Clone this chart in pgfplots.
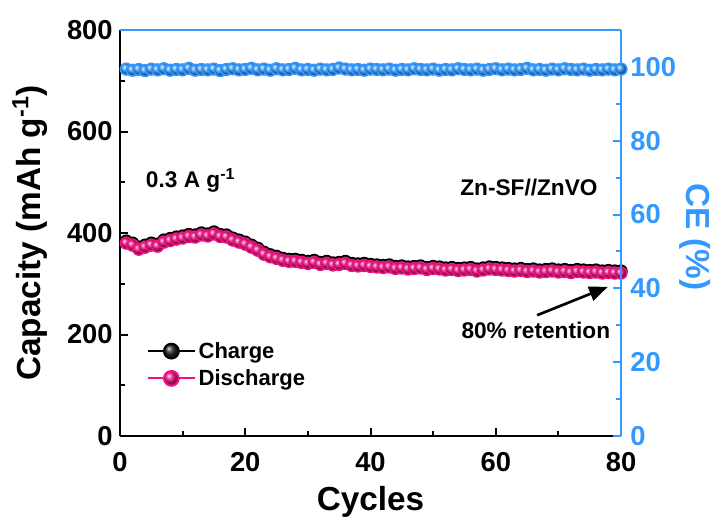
\documentclass[border=0pt]{standalone}
\usepackage{fontspec}
\setmainfont{Liberation Sans}
\usepackage{pgfplots}
\usepackage{pgfplotstable}
\pgfplotsset{compat=1.18}
\usetikzlibrary{arrows.meta}
\definecolor{CEblue}{RGB}{51,153,255}
\definecolor{DisPink}{RGB}{236,20,128}

% cycle, charge, discharge, CE
\pgfplotstableread{
c chg dis ce
1 384 380 99.4
2 380 376 99.1
3 372 368 99.3
4 376 372 99.0
5 380 376 99.4
6 378 374 99.2
7 386 382 99.5
8 389 385 99.1
9 392 388 99.3
10 394 390 99.2
11 397 393 99.6
12 396 392 99.1
13 400 396 99.3
14 398 394 99.2
15 402 398 99.4
16 397 393 99.0
17 396 392 99.3
18 390 386 99.5
19 386 382 99.2
20 382 378 99.3
21 376 372 99.6
22 370 366 99.2
23 362 358 99.4
24 357 353 99.1
25 354 350 99.5
26 350 346 99.2
27 348 344 99.3
28 348 344 99.6
29 346 342 99.2
30 344 340 99.3
31 346 342 99.1
32 342 338 99.4
33 344 340 99.2
34 341 337 99.3
35 342 338 99.7
36 344 340 99.4
37 340 336 99.2
38 339 335 99.3
39 340 336 99.1
40 338 334 99.4
41 337 333 99.3
42 336 332 99.2
43 337 333 99.4
44 334 330 99.1
45 335 331 99.3
46 333 329 99.2
47 334 330 99.5
48 335 331 99.3
49 332 328 99.2
50 334 330 99.4
51 333 329 99.1
52 331 327 99.3
53 332 328 99.2
54 330 326 99.5
55 331 327 99.3
56 332 328 99.2
57 329 325 99.4
58 331 327 99.1
59 333 329 99.3
60 332 328 99.5
61 331 327 99.2
62 330 326 99.4
63 329 325 99.2
64 330 326 99.3
65 328 324 99.6
66 329 325 99.2
67 327 323 99.3
68 328 324 99.1
69 329 325 99.4
70 327 323 99.2
71 328 324 99.5
72 326 322 99.3
73 328 324 99.2
74 327 323 99.4
75 326 322 99.1
76 327 323 99.3
77 325 321 99.2
78 326 322 99.4
79 325 321 99.2
80 325 321 99.4
}\cycdata

\begin{document}
\begin{tikzpicture}
\pgfplotsset{
  every axis/.append style={
    scale only axis, width=375.75pt, height=304.5pt,
    xmin=0, xmax=80, clip=false,
    tick align=inside,
    major tick length=6pt, minor tick length=3.5pt,
    ticklabel style={font=\bfseries\fontsize{20.5}{22}\selectfont},
    label style={font=\bfseries\fontsize{25}{27}\selectfont},
    /pgf/number format/assume math mode=true,
  },
}
\begin{axis}[
  ymin=0, ymax=800,
  axis x line*=bottom, axis y line*=left,
  axis line style={line width=1.5pt, black, -},
  tick style={line width=1.5pt, black},
  xtick={0,20,...,80}, minor xtick={10,30,...,70},
  ytick={0,200,...,800}, minor ytick={100,300,...,700},
  xticklabel style={yshift=-9pt},
  yticklabel style={xshift=-2pt},
  xlabel={Cycles},
  ylabel={Capacity (mAh g\textsuperscript{-1})},
  xlabel style={at={(axis description cs:0.5,-0.163)}, anchor=center},
  ylabel style={at={(axis description cs:-0.18,0.5)}, anchor=center},
  legend style={draw=none, fill=none, at={(0.045,0.245)}, anchor=north west,
    font=\bfseries\fontsize{16.5}{18}\selectfont, row sep=3pt},
  legend cell align=left,
  legend image code/.code={
    \draw[#1, line width=1.6pt, mark size=5.5pt, mark repeat=2, mark phase=2]
      plot coordinates {(0cm,0cm) (0.62cm,0cm) (1.24cm,0cm)};},
]
% page frame in the proportions of the reference
\path (rel axis cs:-0.2395,-0.192) rectangle (rel axis cs:1.1896,1.0739);

\addplot[black, line width=1.2pt, mark=ball, mark size=4.4pt,
  mark options={ball color=black!85}] table[x=c, y=chg] {\cycdata};
\addlegendentry{Charge}
\addplot[DisPink, line width=1.2pt, mark=ball, mark size=4.4pt,
  mark options={ball color=DisPink}] table[x=c, y=dis] {\cycdata};
\addlegendentry{Discharge}

\node[anchor=west, font=\bfseries\fontsize{17}{19}\selectfont]
  at (axis cs:3.4,504) {0.3 A g\textsuperscript{-1}};
\node[font=\bfseries\fontsize{17}{19}\selectfont]
  at (axis cs:65.3,489) {Zn-SF//ZnVO};
\node[font=\bfseries\fontsize{17}{19}\selectfont]
  at (axis cs:66.4,209) {80\% retention};
\draw[-{Triangle[length=14pt, width=11pt]}, line width=2pt]
  (axis cs:66.6,238) -- (axis cs:77.9,294);
\end{axis}

\begin{axis}[
  ymin=0, ymax=110,
  axis x line*=top, axis y line*=right,
  axis line style={line width=1.5pt, CEblue, -},
  tick style={line width=1.5pt, CEblue},
  xtick=\empty,
  ytick={0,20,...,100}, minor ytick={10,30,...,90},
  yticklabel style={CEblue, xshift=3.5pt},
  ylabel={CE (\%)},
  ylabel style={CEblue, at={(axis description cs:1.148,0.49)}, anchor=center, rotate=180},
]
\addplot[CEblue, line width=1.2pt, mark=ball, mark size=4.4pt,
  mark options={ball color=CEblue}] table[x=c, y=ce] {\cycdata};
\end{axis}
\end{tikzpicture}
\end{document}
